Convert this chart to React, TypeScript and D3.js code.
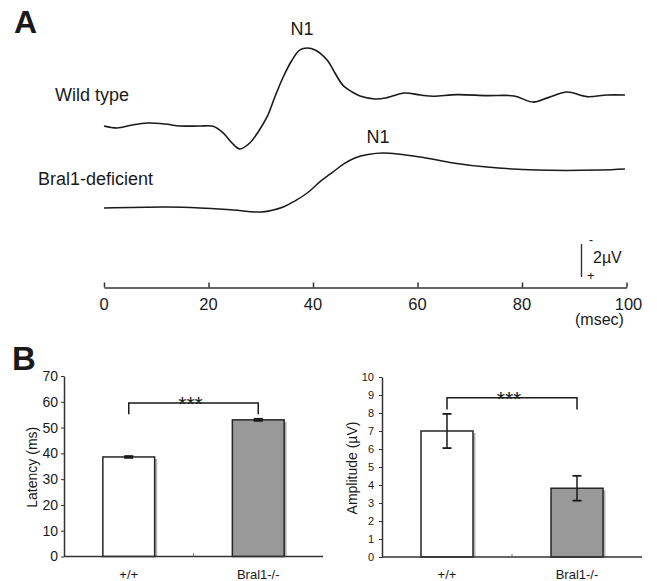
import React, { useEffect, useRef } from 'react';
import * as d3 from 'd3';

// Panel A: evoked potentials, [time (ms), voltage (µV)], negative = up
const WT_TRACE: [number, number][] = [
  [0, 0], [2.5, 0.12], [5.4, -0.06], [8.2, -0.18], [11.7, -0.12], [14.5, 0],
  [18.4, 0], [20.9, 0.02], [22.8, 0.42], [24.5, 1.03], [26.0, 1.39], [27.9, 1.03],
  [29.5, 0.36], [31.2, -0.55], [32.7, -1.76], [34.3, -2.97], [36.0, -4.0],
  [37.5, -4.61], [38.9, -4.73], [40.4, -4.61], [42.7, -4.0], [44.2, -3.21],
  [45.7, -2.48], [47.5, -2.06], [49.0, -1.82], [51.9, -1.64], [54.2, -1.72],
  [57.5, -2.0], [60.5, -1.88], [63.0, -1.8], [67.5, -1.9], [73.3, -1.84],
  [78.5, -1.82], [82.1, -1.45], [85.0, -1.72], [88.6, -2.06], [92.4, -1.78],
  [96.3, -1.88], [99.7, -1.88]
];

const KO_TRACE: [number, number][] = [
  [0, 0], [12.1, -0.06], [18.4, 0], [24.7, 0.12], [30.2, 0.24],
  [34.3, -0.06], [36.5, -0.42], [38.9, -0.91], [41.3, -1.58], [43.8, -2.18],
  [45.9, -2.67], [48.0, -3.03], [50.5, -3.24], [53.5, -3.33],
  [60.5, -3.09], [66.8, -2.73], [73.3, -2.48], [82.9, -2.3], [94.9, -2.3],
  [99.7, -2.36]
];

const TIME_TICKS = [0, 20, 40, 60, 80, 100];

// Panel B
const GROUPS = ['+/+', 'Bral1-/-'];
const LATENCY_MEAN = [38.6, 53.0];
const LATENCY_SEM = [0.35, 0.4];
const AMPLITUDE_MEAN = [7.0, 3.82];
const AMPLITUDE_SEM = [0.95, 0.69];
const LATENCY_TICKS = [0, 10, 20, 30, 40, 50, 60, 70];
const AMPLITUDE_TICKS = [0, 1, 2, 3, 4, 5, 6, 7, 8, 9, 10];

const FONT = "'Liberation Sans', Arial, Helvetica, sans-serif";
const INK = '#1a1a1a';

function drawBars(svg, opts) {
  const { x0, x1, y0, y1, max, ticks, means, sems, fill, tickFont, labelX, label, bracketAt, legAt, tickPad } = opts;

  const x = d3.scaleBand().domain(GROUPS).range([x0, x1]).paddingInner(0.6).paddingOuter(0.3);
  const y = d3.scaleLinear().domain([0, max]).range([y0, y1]);

  const g = svg.append('g');

  // bars with a soft shadow on the right
  GROUPS.forEach((grp, i) => {
    g.append('rect')
      .attr('x', x(grp) + 2.5).attr('y', y(means[i]) + 2)
      .attr('width', x.bandwidth()).attr('height', y0 - y(means[i]) - 2)
      .attr('fill', '#b4b4b4');
    g.append('rect')
      .attr('x', x(grp)).attr('y', y(means[i]))
      .attr('width', x.bandwidth()).attr('height', y0 - y(means[i]))
      .attr('fill', fill[i]).attr('stroke', '#262626').attr('stroke-width', 1.5);

    const cx = x(grp) + x.bandwidth() / 2;
    const lo = y(means[i] - sems[i]), hi = y(means[i] + sems[i]);
    g.append('line').attr('x1', cx).attr('x2', cx).attr('y1', lo).attr('y2', hi)
      .attr('stroke', INK).attr('stroke-width', 1.5);
    [lo, hi].forEach(v => {
      g.append('line').attr('x1', cx - 4.5).attr('x2', cx + 4.5).attr('y1', v).attr('y2', v)
        .attr('stroke', INK).attr('stroke-width', 1.8);
    });
  });

  // y axis
  const ax = g.append('g')
    .attr('transform', `translate(${x0},0)`)
    .call(d3.axisLeft(y).tickValues(ticks).tickSize(3).tickPadding(tickPad).tickSizeOuter(0));
  ax.select('.domain').attr('stroke', '#333').attr('stroke-width', 1.5);
  ax.selectAll('.tick line').attr('stroke', '#333');
  ax.selectAll('.tick text')
    .attr('font-family', FONT).attr('font-size', tickFont).attr('fill', INK);

  // x axis
  g.append('line').attr('x1', x0).attr('x2', x1).attr('y1', y0).attr('y2', y0)
    .attr('stroke', '#333').attr('stroke-width', 1.5);
  const mid = (x(GROUPS[0]) + x.bandwidth() + x(GROUPS[1])) / 2;
  g.append('line').attr('x1', mid).attr('x2', mid).attr('y1', y0).attr('y2', y0 - 3)
    .attr('stroke', '#666').attr('stroke-width', 1);

  GROUPS.forEach(grp => {
    g.append('text')
      .attr('x', x(grp) + x.bandwidth() / 2).attr('y', 579)
      .attr('text-anchor', 'middle')
      .attr('font-family', FONT).attr('font-size', 13).attr('fill', INK)
      .text(grp);
  });

  // axis title
  g.append('text')
    .attr('transform', `translate(${labelX},${(y0 + y1) / 2 + 1}) rotate(-90)`)
    .attr('text-anchor', 'middle').attr('dominant-baseline', 'central')
    .attr('font-family', FONT).attr('font-size', 14).attr('fill', INK)
    .text(label);

  // significance bracket
  const bx0 = x(GROUPS[0]) + x.bandwidth() / 2;
  const bx1 = x(GROUPS[1]) + x.bandwidth() / 2;
  g.append('path')
    .attr('d', `M${bx0},${y(legAt)} V${y(bracketAt)} H${bx1} V${y(legAt)}`)
    .attr('fill', 'none').attr('stroke', INK).attr('stroke-width', 1.5);
  g.append('text')
    .attr('x', (bx0 + bx1) / 2 - 3).attr('y', y(bracketAt) + 8)
    .attr('text-anchor', 'middle')
    .attr('font-family', FONT).attr('font-size', 21).attr('fill', INK)
    .text('***');
}

const App = () => {
  const ref = useRef(null);

  useEffect(() => {
    const svg = d3.select(ref.current);
    svg.selectAll('*').remove();

    // ---- Panel A ----
    const t = d3.scaleLinear().domain([0, 100]).range([104, 626.5]);
    const uv = 16.5; // px per µV
    const wtY = d3.scaleLinear().domain([0, 1]).range([126, 126 + uv]);
    const koY = d3.scaleLinear().domain([0, 1]).range([208, 208 + uv]);

    const lineWT = d3.line().x(d => t(d[0])).y(d => wtY(d[1])).curve(d3.curveCatmullRom.alpha(0.5));
    const lineKO = d3.line().x(d => t(d[0])).y(d => koY(d[1])).curve(d3.curveCatmullRom.alpha(0.5));

    svg.append('path').attr('d', lineWT(WT_TRACE))
      .attr('fill', 'none').attr('stroke', INK).attr('stroke-width', 1.6);
    svg.append('path').attr('d', lineKO(KO_TRACE))
      .attr('fill', 'none').attr('stroke', INK).attr('stroke-width', 1.5);

    const txt = (x, y, s, size, extra = {}) => {
      const n = svg.append('text').attr('x', x).attr('y', y)
        .attr('font-family', FONT).attr('font-size', size).attr('fill', INK).text(s);
      Object.entries(extra).forEach(([k, v]) => n.attr(k, v));
      return n;
    };

    txt(14, 33, 'A', 32, { 'font-weight': 'bold' });
    txt(302, 34.5, 'N1', 18, { 'text-anchor': 'middle' });
    txt(378, 142.5, 'N1', 18, { 'text-anchor': 'middle' });
    txt(55, 100.5, 'Wild type', 18);
    txt(38, 185, 'Bral1-deficient', 18);

    // time axis, ticks pointing up
    const ta = svg.append('g')
      .attr('transform', 'translate(0,287.5)')
      .call(d3.axisTop(t).tickValues(TIME_TICKS).tickSize(5).tickSizeOuter(0));
    ta.select('.domain').attr('stroke', '#333').attr('stroke-width', 1.5);
    ta.selectAll('.tick line').attr('stroke', '#333').attr('stroke-width', 1.5);
    ta.selectAll('.tick text').remove();
    TIME_TICKS.forEach(v => {
      txt(t(v) + (v === 100 ? 2 : 0), 309.5, String(v), 16.5, { 'text-anchor': 'middle' });
    });
    txt(575, 325, '(msec)', 16);

    // 2 µV scale bar
    const barTop = 244;
    svg.append('line').attr('x1', 581.5).attr('x2', 581.5)
      .attr('y1', barTop).attr('y2', barTop + 2 * uv)
      .attr('stroke', '#333').attr('stroke-width', 1.4);
    txt(589, 244, '-', 12);
    txt(593, 263, '2µV', 16);
    txt(587, 280, '+', 13);

    // ---- Panel B ----
    txt(12, 370, 'B', 33, { 'font-weight': 'bold' });

    drawBars(svg, {
      x0: 64, x1: 323, y0: 556.5, y1: 376, max: 70, ticks: LATENCY_TICKS,
      means: LATENCY_MEAN, sems: LATENCY_SEM, fill: ['#ffffff', '#999999'],
      tickFont: 14, tickPad: 3, labelX: 32, label: 'Latency (ms)',
      bracketAt: 59.5, legAt: 55.2
    });

    drawBars(svg, {
      x0: 382, x1: 642, y0: 557, y1: 377, max: 10, ticks: AMPLITUDE_TICKS,
      means: AMPLITUDE_MEAN, sems: AMPLITUDE_SEM, fill: ['#ffffff', '#999999'],
      tickFont: 11, tickPad: 5, labelX: 352, label: 'Amplitude (µV)',
      bracketAt: 8.85, legAt: 8.2
    });
  }, []);

  return (
    <svg
      ref={ref}
      width={657}
      height={581}
      style={{ position: 'absolute', left: 0, top: 0, background: '#fff' }}
    />
  );
};

export default App;
